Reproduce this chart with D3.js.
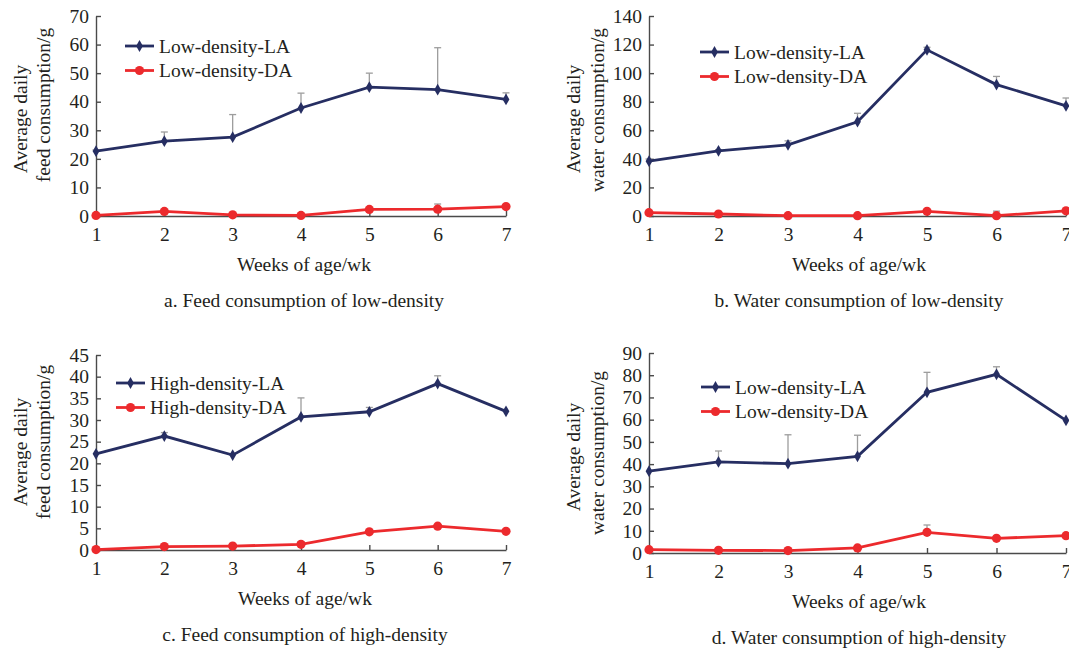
<!DOCTYPE html>
<html>
<head>
<meta charset="utf-8">
<script src="https://cdn.jsdelivr.net/npm/d3@7"></script>
<style>
  body { margin: 0; background: #fff; }
  svg text { font-family: "Liberation Serif", "Times New Roman", serif; fill: #231f20; }
</style>
</head>
<body>
<div id="chart"></div>
<script>
var W = 1069, H = 649;
var fs = "19.5px";

// weeks on the x axis
var weeks = [1, 2, 3, 4, 5, 6, 7];

// a. feed, low density
var feedLowLA   = [22.7, 26.2, 27.6, 37.8, 45.1, 44.2, 40.8];
var feedLowLAsd = [0.4, 3.2, 7.9, 5.2, 4.9, 14.7, 2.3];
var feedLowDA   = [0.2, 1.6, 0.4, 0.2, 2.3, 2.4, 3.3];
var feedLowDAsd = [0, 0.3, 0, 0, 0.3, 1.8, 0.3];

// b. water, low density
var waterLowLA   = [38.4, 45.6, 49.8, 66.0, 116.3, 92.0, 77.1];
var waterLowLAsd = [1.5, 0.8, 2.8, 5.9, 1.8, 5.7, 5.5];
var waterLowDA   = [2.3, 1.4, 0.2, 0.2, 3.3, 0.2, 3.6];
var waterLowDAsd = [0, 0, 0, 0, 0, 3.2, 0];

// c. feed, high density
var feedHighLA   = [22.2, 26.3, 21.9, 30.7, 31.9, 38.4, 32.0];
var feedHighLAsd = [0, 0.8, 0, 4.4, 1.0, 1.8, 0];
var feedHighDA   = [0.1, 0.8, 0.9, 1.3, 4.2, 5.5, 4.3];
var feedHighDAsd = [0, 0.2, 0.4, 0.6, 0.2, 0.3, 0.2];

// d. water, high density
var waterHighLA   = [36.8, 41.0, 40.2, 43.5, 72.3, 80.4, 59.7];
var waterHighLAsd = [0, 4.9, 13.0, 9.5, 9.0, 3.4, 0];
var waterHighDA   = [1.5, 1.2, 1.1, 2.3, 9.3, 6.6, 7.8];
var waterHighDAsd = [0, 0, 0, 0, 3.3, 0, 0];

var yMaxes = [70, 140, 45, 90];
var yTicks = [
  [0, 10, 20, 30, 40, 50, 60, 70],
  [0, 20, 40, 60, 80, 100, 120, 140],
  [0, 5, 10, 15, 20, 25, 30, 35, 40, 45],
  [0, 10, 20, 30, 40, 50, 60, 70, 80, 90]
];
var legendNames = [
  ["Low-density-LA", "Low-density-DA"],
  ["Low-density-LA", "Low-density-DA"],
  ["High-density-LA", "High-density-DA"],
  ["Low-density-LA", "Low-density-DA"]
];
var yTitles = [
  ["Average daily", "feed consumption/g"],
  ["Average daily", "water consumption/g"],
  ["Average daily", "feed consumption/g"],
  ["Average daily", "water consumption/g"]
];
var xTitle = "Weeks of age/wk";
var captions = [
  "a. Feed consumption of low-density",
  "b. Water consumption of low-density",
  "c. Feed consumption of high-density",
  "d. Water consumption of high-density"
];

var navy = "#262e62", red = "#ec2a2d", grey = "#9d9d9d", axisCol = "#4a4a4a";

var svg = d3.select("#chart").append("svg")
    .attr("width", W).attr("height", H);

// panel boxes (axis positions)
var panels = [
  {x0: 96,  x1: 506,  y0: 216, y1: 16,  t1: [20, 119], t2: [43, 105], lx: 125, ly: 46, cx: 304, la: feedLowLA, lasd: feedLowLAsd, da: feedLowDA, dasd: feedLowDAsd},
  {x0: 649, x1: 1066, y0: 216, y1: 16,  t1: [573, 119], t2: [597, 110], lx: 700, ly: 52, cx: 859, la: waterLowLA, lasd: waterLowLAsd, da: waterLowDA, dasd: waterLowDAsd},
  {x0: 96,  x1: 506,  y0: 550, y1: 355, t1: [20, 452], t2: [43, 442], lx: 116, ly: 383, cx: 305, la: feedHighLA, lasd: feedHighLAsd, da: feedHighDA, dasd: feedHighDAsd},
  {x0: 649, x1: 1066, y0: 553, y1: 353, t1: [573, 457], t2: [597, 453], lx: 701, ly: 387, cx: 859, la: waterHighLA, lasd: waterHighLAsd, da: waterHighDA, dasd: waterHighDAsd}
];

panels.forEach(function(p, i) {
  drawPanel(p, i);
});

function drawPanel(p, i) {
  var g = svg.append("g");

  var xScale = d3.scaleLinear().domain([1, 7]).range([p.x0, p.x1]);
  var yScale = d3.scaleLinear().domain([0, yMaxes[i]]).range([p.y0, p.y1]);

  var xAxis = d3.axisBottom(xScale).tickValues(weeks).tickFormat(d3.format("d"))
      .tickSizeInner(-5).tickSizeOuter(0).tickPadding(11);
  var yAxis = d3.axisLeft(yScale).tickValues(yTicks[i]).tickFormat(d3.format("d"))
      .tickSizeInner(-5).tickSizeOuter(0).tickPadding(7);

  var gx = g.append("g")
      .attr("transform", "translate(0," + p.y0 + ")")
      .call(xAxis);
  var gy = g.append("g")
      .attr("transform", "translate(" + p.x0 + ",0)")
      .call(yAxis);

  [gx, gy].forEach(function(a) {
    a.selectAll("path, line").attr("stroke", axisCol).attr("stroke-width", 1.4);
    a.selectAll("text").style("font-size", fs).attr("fill", "#231f20")
      .style("font-family", '"Liberation Serif", serif');
  });

  // error bars (upper only)
  drawErrors(g, p.la, p.lasd, xScale, yScale);
  drawErrors(g, p.da, p.dasd, xScale, yScale);

  var line = d3.line()
      .x(function(d, k) { return xScale(weeks[k]); })
      .y(function(d) { return yScale(d); });

  g.append("path").datum(p.la)
      .attr("d", line).attr("fill", "none")
      .attr("stroke", navy).attr("stroke-width", 2.8);
  g.append("path").datum(p.da)
      .attr("d", line).attr("fill", "none")
      .attr("stroke", red).attr("stroke-width", 2.8);

  var diamond = d3.symbol().type(d3.symbolDiamond).size(40);

  g.selectAll(".laPt").data(p.la).enter().append("path")
      .attr("class", "laPt")
      .attr("d", diamond)
      .attr("transform", function(d, k) { return "translate(" + xScale(weeks[k]) + "," + yScale(d) + ")"; })
      .attr("fill", navy);

  g.selectAll(".daPt").data(p.da).enter().append("circle")
      .attr("class", "daPt")
      .attr("cx", function(d, k) { return xScale(weeks[k]); })
      .attr("cy", function(d) { return yScale(d); })
      .attr("r", 4.6)
      .attr("fill", red);

  // legend
  var names = legendNames[i];
  var rows = [[navy, "diamond"], [red, "circle"]];
  rows.forEach(function(r, k) {
    var yy = p.ly + k * 24.5;
    g.append("line")
      .attr("x1", p.lx).attr("x2", p.lx + 29)
      .attr("y1", yy).attr("y2", yy)
      .attr("stroke", r[0]).attr("stroke-width", 2.8);
    if (r[1] == "diamond") {
      g.append("path").attr("d", diamond)
        .attr("transform", "translate(" + (p.lx + 14.5) + "," + yy + ")")
        .attr("fill", r[0]);
    } else {
      g.append("circle").attr("cx", p.lx + 14.5).attr("cy", yy).attr("r", 4.6).attr("fill", r[0]);
    }
    g.append("text")
      .attr("x", p.lx + 34).attr("y", yy)
      .attr("dy", "0.35em")
      .style("font-size", fs)
      .text(names[k]);
  });

  // y title, two lines
  g.append("text")
    .attr("transform", "translate(" + p.t1[0] + "," + p.t1[1] + ") rotate(-90)")
    .attr("dy", "0.35em")
    .attr("text-anchor", "middle")
    .style("font-size", fs)
    .text(yTitles[i][0]);
  g.append("text")
    .attr("transform", "translate(" + p.t2[0] + "," + p.t2[1] + ") rotate(-90)")
    .attr("dy", "0.35em")
    .attr("text-anchor", "middle")
    .style("font-size", fs)
    .text(yTitles[i][1]);

  // x title and caption
  g.append("text")
    .attr("x", p.cx).attr("y", p.y0 + 55)
    .attr("text-anchor", "middle")
    .style("font-size", fs)
    .text(xTitle);
  g.append("text")
    .attr("x", p.cx).attr("y", p.y0 + 91)
    .attr("text-anchor", "middle")
    .style("font-size", fs)
    .text(captions[i]);
}

function drawErrors(g, vals, sds, xScale, yScale) {
  vals.forEach(function(v, k) {
    if (!sds[k]) return;
    var x = xScale(weeks[k]);
    var top = yScale(v + sds[k]);
    g.append("line")
      .attr("x1", x).attr("x2", x)
      .attr("y1", yScale(v)).attr("y2", top)
      .attr("stroke", grey).attr("stroke-width", 1.3);
    g.append("line")
      .attr("x1", x - 3.5).attr("x2", x + 3.5)
      .attr("y1", top).attr("y2", top)
      .attr("stroke", grey).attr("stroke-width", 1.3);
  });
}
</script>
</body>
</html>
